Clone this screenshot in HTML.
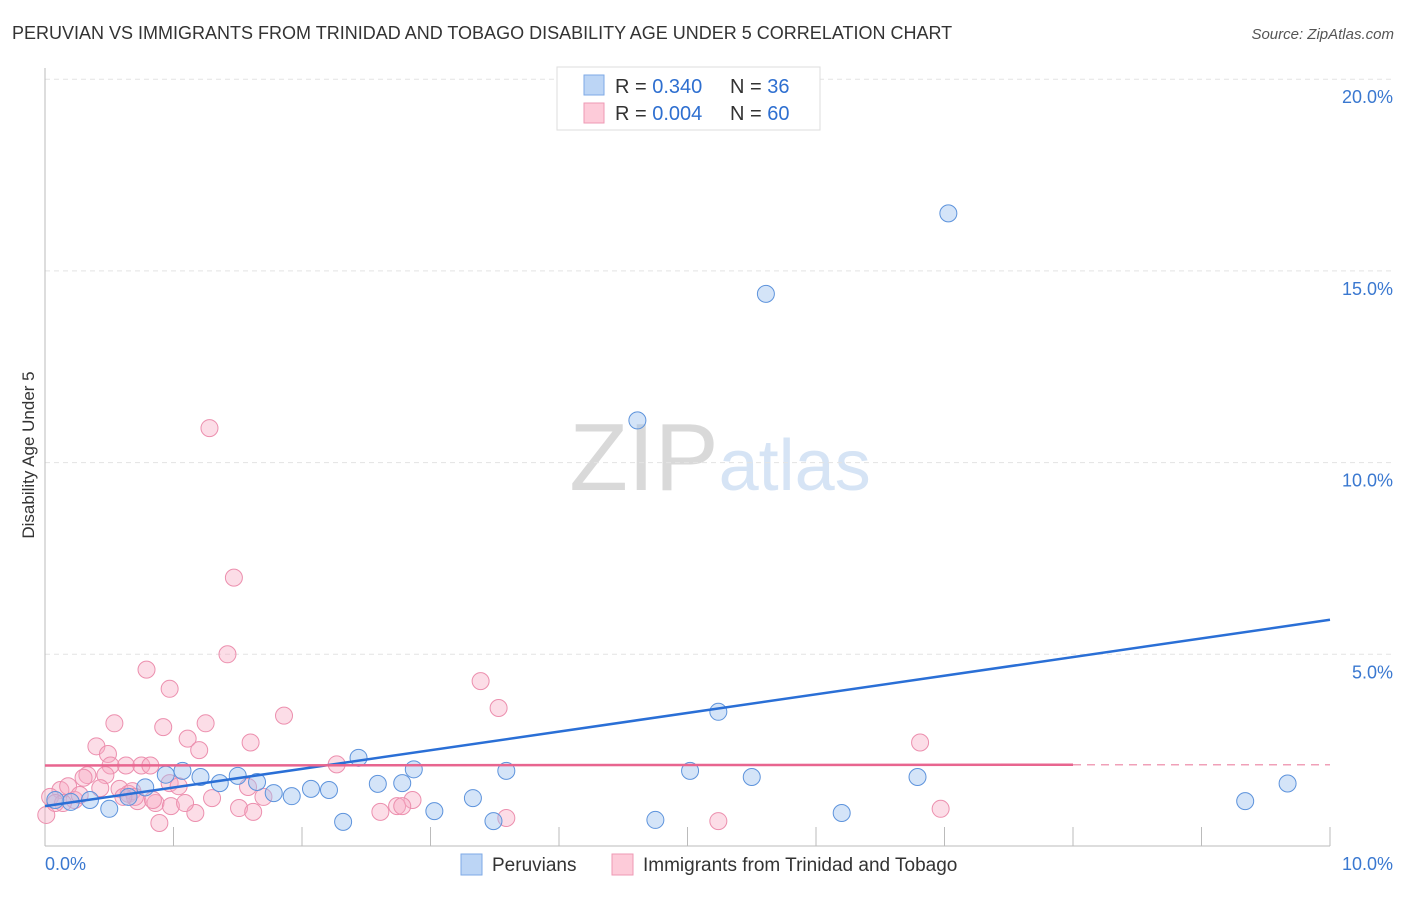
<!DOCTYPE html>
<html><head><meta charset="utf-8"><style>
body{margin:0;background:#fff;font-family:"Liberation Sans",sans-serif}
svg text{font-family:"Liberation Sans",sans-serif}
</style></head><body>
<svg id="chart" width="1406" height="892">
<text x="12" y="39" font-size="18" fill="#333">PERUVIAN VS IMMIGRANTS FROM TRINIDAD AND TOBAGO DISABILITY AGE UNDER 5 CORRELATION CHART</text>
<text x="1394" y="39" font-size="15" fill="#555" font-style="italic" text-anchor="end">Source: ZipAtlas.com</text>
<text x="34" y="455" font-size="17" fill="#333" text-anchor="middle" transform="rotate(-90 34 455)">Disability Age Under 5</text>
<text x="720" y="490" font-size="96" fill="#ddd" text-anchor="middle" font-family="Liberation Serif"><tspan fill="#d9d9d9">ZIP</tspan><tspan fill="#d6e4f5" font-family="Liberation Sans" font-size="72">atlas</tspan></text>
<g id="grid"></g><g id="axes"></g><g id="pts"></g><g id="lines"></g>
<g>
<rect x="557" y="67" width="263" height="63" fill="#fff" stroke="#ddd"/>
<rect x="584" y="75" width="20" height="20" fill="#bcd5f5" stroke="#7ea9e6"/>
<rect x="584" y="103" width="20" height="20" fill="#fdcbd9" stroke="#ee9ab4"/>
<text x="615" y="93" font-size="20" fill="#333">R = <tspan fill="#2e6fd0">0.340</tspan></text>
<text x="730" y="93" font-size="20" fill="#333">N = <tspan fill="#2e6fd0">36</tspan></text>
<text x="615" y="120" font-size="20" fill="#333">R = <tspan fill="#2e6fd0">0.004</tspan></text>
<text x="730" y="120" font-size="20" fill="#333">N = <tspan fill="#2e6fd0">60</tspan></text>
</g>
<g>
<rect x="461" y="854" width="21" height="21" fill="#bcd5f5" stroke="#7ea9e6"/>
<text x="492" y="871" font-size="19" fill="#333">Peruvians</text>
<rect x="612" y="854" width="21" height="21" fill="#fdcbd9" stroke="#ee9ab4"/>
<text x="643" y="871" font-size="19" fill="#333">Immigrants from Trinidad and Tobago</text>
</g>
</svg>
<script>
const blueX=[7.03,5.61,4.61,5.24,2.44,2.87,3.59,5.02,5.50,6.79,9.67,9.34,0.94,1.07,1.21,1.36,1.50,1.65,1.78,1.92,2.07,2.21,2.59,2.78,3.33,3.03,2.32,3.49,4.75,6.20,0.50,0.35,0.20,0.08,0.78,0.65];
const blueY=[16.5,14.4,11.1,3.5,2.3,2.0,1.96,1.96,1.8,1.8,1.63,1.17,1.86,1.96,1.8,1.64,1.83,1.67,1.38,1.3,1.49,1.46,1.62,1.64,1.25,0.91,0.63,0.65,0.68,0.86,0.97,1.2,1.15,1.2,1.53,1.28];
const pinkX=[1.28,1.47,1.42,0.79,0.97,3.39,3.53,1.86,1.25,0.54,0.92,1.11,1.60,0.40,0.49,1.20,6.81,0.63,0.75,0.82,0.51,0.33,0.47,0.30,0.58,0.65,0.68,0.97,1.04,1.58,2.27,2.86,2.74,2.78,2.61,1.70,1.51,1.30,0.86,0.98,1.17,1.62,0.89,3.59,5.24,6.97,0.12,0.18,0.23,0.04,0.27,0.14,0.72,0.84,0.01,0.08,0.43,0.70,0.61,1.09];
const pinkY=[10.9,7.0,5.0,4.6,4.1,4.3,3.6,3.4,3.2,3.2,3.1,2.8,2.7,2.6,2.4,2.5,2.7,2.1,2.1,2.1,2.1,1.85,1.85,1.78,1.49,1.36,1.43,1.64,1.56,1.54,2.13,1.2,1.04,1.04,0.89,1.28,0.99,1.25,1.12,1.04,0.86,0.89,0.6,0.73,0.65,0.97,1.46,1.56,1.2,1.28,1.33,1.12,1.17,1.2,0.81,1.12,1.51,1.28,1.28,1.12];
const yTicks=[5,10,15,20];
const xTickLabels=["0.0%","10.0%"];
const NS="http://www.w3.org/2000/svg";
const X0=45,X1=1330,Y0=846,PY=38.34;
const sx=v=>X0+(v/10)*(X1-X0), sy=v=>Y0-v*PY;
function mk(tag,attrs,parent){const e=document.createElementNS(NS,tag);for(const k in attrs)e.setAttribute(k,attrs[k]);document.getElementById(parent).appendChild(e);return e;}
yTicks.forEach(t=>{
 const g=mk('line',{x1:X0,x2:1394,y1:sy(t),y2:sy(t),stroke:'#e3e3e3','stroke-dasharray':'5,4'},'grid');
 
 
 const tx=mk('text',{x:1393,y:sy(t)+24,'font-size':18,fill:'#3a78d0','text-anchor':'end'},'grid');
 tx.textContent=t.toFixed(1)+'%';
 
 
});
let ax=mk('line',{x1:X0,x2:X0,y1:68,y2:Y0,stroke:'#bbb'},'axes');


ax=mk('line',{x1:X0,x2:X1,y1:Y0,y2:Y0,stroke:'#bbb'},'axes');


for(let i=1;i<=10;i++){const t=mk('line',{x1:sx(i),x2:sx(i),y1:827,y2:Y0,stroke:'#bbb'},'axes');
 
 }
[[0,'start',45],[10,'end',1393]].forEach((d,i)=>{const t=mk('text',{x:d[2],y:870,'font-size':18,fill:'#3a78d0','text-anchor':d[1]},'axes');t.textContent=xTickLabels[i];
 
 });
pinkX.forEach((v,i)=>{const c=mk('circle',{cx:sx(v),cy:sy(pinkY[i]),r:8.5,fill:'rgba(248,170,195,0.4)',stroke:'#ec8fae','stroke-width':1},'pts');
 
 });
blueX.forEach((v,i)=>{const c=mk('circle',{cx:sx(v),cy:sy(blueY[i]),r:8.5,fill:'rgba(160,195,240,0.45)',stroke:'#5d93dc','stroke-width':1},'pts');
 
 });
let l=mk('line',{x1:X0,y1:sy(1.04),x2:X1,y2:sy(5.9),stroke:'#2a6fd6','stroke-width':2.5},'lines');


l=mk('line',{x1:X0,y1:sy(2.1),x2:sx(8),y2:sy(2.12),stroke:'#e8658f','stroke-width':2.5},'lines');


l=mk('line',{x1:sx(8),y1:sy(2.12),x2:X1,y2:sy(2.12),stroke:'#f0a0b8','stroke-width':1.5,'stroke-dasharray':'8,6'},'lines');


</script>
</body></html>
